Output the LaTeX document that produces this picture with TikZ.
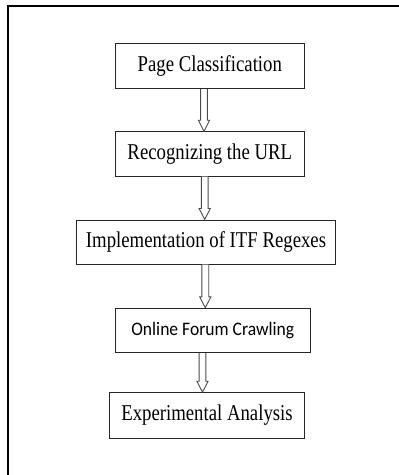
\documentclass[tikz,border=0pt]{standalone}
\usepackage{fontspec}
\usetikzlibrary{calc}
\newfontfamily\tnrfont[FakeStretch=0.83]{Liberation Serif}
\newfontfamily\calfont[FakeStretch=0.92]{Carlito}
\tikzset{
  stepbox/.style={draw=black!85, line width=1pt, rectangle, inner sep=0pt, align=center,
    font=\tnrfont\fontsize{22.6pt}{24pt}\selectfont},
  blockarrow/.style={draw=black!70, line width=0.9pt, fill=white, line join=miter},
  frameline/.style={line width=2pt, black}
}
\newcommand{\blockarr}[3]{%
  \draw[blockarrow] let \p1=(#1.south), \p2=(#2.north) in
    (#3pt-3.4pt,\y1) -- (#3pt-3.4pt,\y2+11pt) -- (#3pt-5.6pt,\y2+11pt) -- (#3pt,\y2)
    -- (#3pt+5.6pt,\y2+11pt) -- (#3pt+3.4pt,\y2+11pt) -- (#3pt+3.4pt,\y1);
}
\begin{document}
\begin{tikzpicture}[x=1pt,y=-1pt]
\useasboundingbox (0,0) rectangle (399,475);
\fill[white] (0,0) rectangle (399,475);
\draw[frameline] (7.7,476) -- (7.7,5.7) -- (399,5.7);
\node[stepbox, minimum width=189pt, minimum height=45pt] (b1) at (209.8,66.2) {Page Classification};
\node[stepbox, minimum width=189pt, minimum height=44.3pt] (b2) at (209.8,153.9) {Recognizing the URL};
\node[stepbox, minimum width=258.6pt, minimum height=44pt] (b3) at (206,242) {Implementation of ITF Regexes};
\node[stepbox, minimum width=195pt, minimum height=44.4pt, font=\calfont\fontsize{19.1pt}{21pt}\selectfont] (b4) at (212.8,330.5) {Online Forum Crawling};
\node[stepbox, minimum width=194.6pt, minimum height=45.6pt] (b5) at (207,415.5) {Experimental Analysis};
\blockarr{b1}{b2}{204}
\blockarr{b2}{b3}{204.7}
\blockarr{b3}{b4}{205.3}
\blockarr{b4}{b5}{202.5}
\end{tikzpicture}
\end{document}
